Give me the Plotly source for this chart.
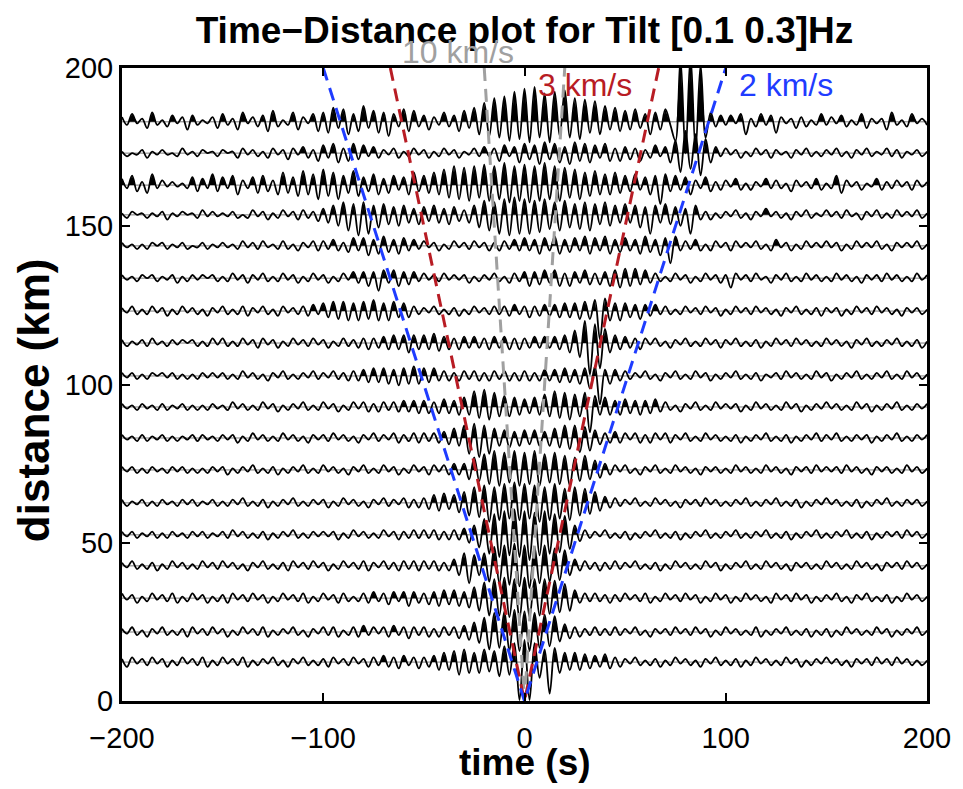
import numpy as np
import plotly.graph_objects as go

# ---------------- data ----------------
T_START = -200.0          # s, first sample time
T_STEP = 2.5              # s, spacing of the read-off peaks/troughs
GAIN = 0.5                # km of offset per amplitude unit
FILL_MIN = 2.0            # km, positive lobes at least this tall are filled

DISTANCES = [183.0, 173.1, 163.0, 153.6, 143.8, 133.6, 123.2, 113.1, 102.7,
             92.9, 83.1, 73.0, 62.6, 52.5, 42.7, 32.5, 21.8, 12.3]

TRACE_183 = [3,-2,5,-1,2,-4,6,-2,1,-3,4,-1,3,-5,4,-2,1,-1,3,-4,
             5,-2,2,-5,6,-1,3,-3,4,-6,7,-3,1,-2,6,-5,3,-1,5,-6,
             6,-7,9,-4,8,-8,5,-6,10,-4,7,-7,6,-9,5,-3,8,-6,7,-3,
             4,-5,3,-2,6,-3,4,-6,7,-4,9,-8,12,-9,15,-10,16,-12,19,-11,
             21,-13,22,-10,18,-13,19,-9,20,-10,15,-11,14,-7,13,-8,10,-5,9,-6,
             7,-5,8,-4,5,-8,6,-5,8,-2,-12,40,-20,42,-18,36,-10,6,-3,4,
             -2,4,-1,5,-8,2,-3,5,-2,4,-7,3,-1,2,-4,3,-3,1,-2,5,
             -2,3,-1,4,-3,1,-2,5,-4,2,-1,2,-5,6,-2,1,-3,5,-1,2,
             -2]
TRACE_173 = [1,-2,0,-1,2,-3,1,-1,2,-1,0,-2,3,-1,1,-2,2,0,1,-2,
             2,0,1,-3,3,-1,2,-2,1,-3,3,-1,2,-4,3,-1,4,-3,2,-5,
             5,-3,6,-6,3,-5,6,-4,5,-2,4,-3,2,-1,3,-3,1,-2,3,-1,
             2,-3,1,-2,3,-1,2,-3,1,-1,3,-2,4,-2,3,-5,5,-2,4,-6,
             6,-4,5,-7,7,-4,6,-6,4,-7,7,-5,6,-6,5,-3,6,-5,3,-5,
             4,-4,3,-5,2,-3,5,-2,4,-6,8,-12,14,-10,12,-14,9,-6,4,-2,
             3,-1,2,-3,1,-2,3,-1,2,-3,2,-1,1,-3,2,-1,3,-2,1,-2,
             2,-1,3,-2,1,-3,2,-1,3,-2,1,-1,3,-2,2,-3,1,-1,2,-2,
             1]
TRACE_163 = [4,-2,6,-4,2,-5,7,-2,3,-1,2,-1,1,-2,5,-4,4,-2,7,-4,
             5,-2,6,-6,3,-2,5,-5,6,-4,3,-6,8,-5,5,-7,9,-6,7,-9,
             10,-7,8,-9,6,-5,9,-7,5,-4,7,-6,4,-5,6,-3,5,-6,8,-4,
             6,-5,8,-6,10,-8,12,-9,11,-10,12,-8,13,-10,12,-9,14,-11,12,-10,
             13,-11,12,-10,14,-9,12,-10,11,-8,10,-9,8,-7,9,-6,7,-6,8,-5,
             6,-4,7,-3,5,-6,6,-12,7,-4,6,-3,5,-6,3,-2,5,-4,2,-3,
             3,-1,4,-3,1,-3,2,-1,4,-2,3,-2,1,-4,3,-1,2,-2,4,-3,
             1,-2,6,-5,3,-1,2,-3,1,-1,4,-3,2,-2,3,-1,2,-3,3,-1,
             2]
TRACE_154 = [1,-2,2,0,1,-2,1,-1,2,-3,1,-1,2,0,1,-2,3,-1,2,-1,
             1,-1,2,-2,0,-2,3,-1,2,-3,1,-2,3,-1,2,-3,3,-2,2,-4,
             4,-5,6,-7,8,-10,7,-13,8,-12,6,-8,7,-6,5,-7,6,-5,4,-6,
             5,-4,6,-5,4,-6,5,-4,3,-5,6,-8,9,-10,8,-12,10,-13,11,-12,
             10,-12,9,-11,10,-9,8,-10,9,-8,7,-9,8,-10,7,-6,8,-7,6,-5,
             7,-5,6,-8,5,-12,6,-5,7,-6,5,-7,4,-12,6,-3,2,-3,1,-2,
             2,-1,3,-2,1,-3,2,-1,4,-1,2,-2,1,-3,2,-1,3,-2,1,-1,
             3,-1,2,-2,3,-1,1,-3,2,-1,3,-2,1,-2,3,-1,2,-1,3,-2,
             1]
TRACE_144 = [2,-1,1,-2,1,-2,2,0,2,-2,1,-1,2,-2,0,-1,2,-2,1,-1,
             2,-1,1,-2,3,-1,2,-2,3,-1,1,-2,3,-2,1,-3,2,-1,3,-3,
             3,-2,4,-3,2,-4,5,-3,5,-6,4,-5,6,-4,4,-5,5,-3,4,-2,
             3,-1,2,-3,1,-2,3,-1,2,-2,3,-1,2,-3,2,-3,3,-2,4,-3,
             5,-3,4,-5,5,-3,6,-5,4,-4,5,-3,6,-5,5,-3,6,-5,4,-4,
             5,-3,4,-5,6,-4,4,-6,5,-11,6,-3,3,-2,4,-3,1,-3,3,-1,
             2,-3,3,-1,2,-1,3,-2,1,-3,4,-1,2,-3,1,-2,3,-1,2,-1,
             3,-1,2,-3,1,-2,3,-1,2,-1,3,-2,1,-3,2,-1,2,-1,3,-2,
             1]
TRACE_134 = [2,-1,1,-2,2,0,2,-2,1,-1,2,-3,1,-2,2,-1,2,0,2,-2,
             1,-2,3,-1,2,-3,2,-1,3,-2,1,-2,3,-1,2,-3,1,-2,3,-1,
             2,-3,1,-2,3,-1,4,-3,4,-5,4,-8,5,-3,5,-5,4,-4,4,-2,
             3,-1,2,-2,3,-1,2,-1,2,-3,1,-2,2,-1,3,-2,1,-3,3,-2,
             4,-5,4,-4,5,-3,5,-5,3,-5,4,-3,5,-4,3,-4,4,-5,5,-6,
             6,-5,6,-4,5,-3,3,-2,1,-2,3,-1,2,-3,1,-2,3,-1,2,-3,
             2,-6,3,-1,2,-2,3,-1,1,-3,2,-1,3,-2,1,-2,3,-1,2,-2,
             1,-2,3,-1,2,-2,1,-3,2,-1,2,-2,3,-1,2,-2,1,-2,3,-1,
             2]
TRACE_123 = [2,-1,3,-2,1,-2,3,-1,2,-3,1,-2,3,-1,2,-2,1,-3,2,-1,
             3,-2,1,-2,3,-3,2,-1,3,-2,1,-3,3,-1,2,-2,3,-3,4,-2,
             5,-4,6,-5,6,-6,5,-6,6,-5,7,-6,5,-6,6,-4,5,-4,3,-2,
             2,-1,3,-2,1,-2,2,-3,1,-2,3,-1,2,-2,3,-2,3,-3,4,-2,
             3,-4,3,-3,4,-3,4,-4,5,-4,5,-5,6,-5,7,-18,8,-6,5,-6,
             5,-4,4,-5,4,-3,4,-2,3,-2,1,-2,3,-1,2,-2,3,-1,2,-3,
             1,-2,3,-1,2,-2,3,-1,2,-2,1,-3,2,-1,3,-2,1,-2,2,-3,
             2,-1,2,-3,1,-2,3,-1,2,-2,3,-1,2,-2,1,-3,2,-1,2,-2,
             1]
TRACE_113 = [2,-2,1,-1,2,-2,3,-1,1,-2,2,-1,2,0,2,-2,1,-2,3,-1,
             3,-2,1,-2,3,-1,2,-3,3,-1,2,-3,1,-2,3,-1,2,-2,3,-1,
             2,-3,1,-2,3,-2,2,-3,3,-4,3,-3,4,-4,5,-4,5,-6,5,-4,
             5,-4,6,-5,4,-4,3,-4,4,-3,4,-3,3,-4,4,-3,4,-4,3,-4,
             3,-3,4,-3,4,-3,4,-4,5,-6,8,-9,14,-20,12,-16,9,-6,5,-4,
             4,-3,3,-4,3,-1,3,-2,1,-3,2,-1,3,-2,1,-2,3,-1,2,-3,
             2,-1,3,-2,1,-2,2,-3,1,-2,3,-1,2,-2,3,-1,2,-2,1,-2,
             3,-1,2,-2,1,-3,2,-1,3,-2,1,-2,2,-1,3,-2,1,-2,2,-3,
             1]
TRACE_103 = [2,-1,2,-2,1,-2,2,0,2,-1,2,-2,1,-2,1,-2,2,-1,2,-1,
             2,-2,1,-2,3,-1,2,-2,1,-3,2,-1,3,-2,1,-2,2,-1,3,-2,
             2,-1,3,-2,2,-3,3,-3,4,-4,5,-4,5,-5,4,-6,5,-5,6,-5,
             5,-4,5,-3,3,-3,2,-3,3,-2,3,-3,2,-3,3,-2,3,-3,2,-3,
             3,-3,2,-3,4,-3,4,-4,5,-4,4,-5,5,-8,6,-18,4,-5,4,-3,
             3,-2,2,-1,3,-2,1,-3,2,-1,3,-2,1,-2,3,-1,2,-3,1,-2,
             2,-1,3,-2,1,-2,2,-3,1,-1,2,-2,3,-1,2,-2,1,-2,3,-1,
             2,-3,1,-2,2,-1,3,-2,1,-2,2,-1,3,-2,1,-2,3,-1,2,-2,
             1]
TRACE_093 = [2,-1,1,-2,2,-1,1,-2,2,-2,1,-1,2,-2,1,-2,1,-2,2,-1,
             1,-2,3,-1,2,-2,1,-2,3,-1,2,-3,1,-2,2,-1,3,-2,1,-2,
             3,-1,2,-3,1,-2,3,-1,3,-3,2,-3,3,-2,3,-3,4,-3,4,-4,
             4,-4,3,-4,5,-4,4,-5,6,-5,10,-7,11,-8,9,-6,7,-6,6,-5,
             5,-4,6,-5,8,-6,10,-7,9,-8,8,-6,9,-16,7,-5,6,-5,4,-5,
             5,-4,4,-5,4,-4,5,-3,3,-2,1,-3,2,-1,3,-2,1,-2,3,-1,
             2,-1,2,-3,1,-2,3,-1,2,-2,1,-2,3,-1,2,-3,1,-2,2,-1,
             3,-1,2,-2,1,-2,3,-1,2,-3,1,-2,2,-1,3,-2,1,-2,2,-1,
             2]
TRACE_083 = [2,-1,1,-2,2,-2,1,-1,2,-2,1,-2,1,-1,2,-2,2,-1,1,-2,
             2,-1,2,-3,1,-2,3,-1,2,-2,1,-2,3,-1,2,-2,1,-3,2,-1,
             2,-2,3,-1,2,-2,1,-3,2,-1,3,-2,2,-1,3,-3,2,-2,3,-3,
             3,-2,3,-3,4,-4,6,-5,8,-10,9,-12,8,-10,6,-5,5,-6,4,-5,
             5,-4,5,-5,4,-5,6,-6,8,-7,8,-9,7,-8,5,-4,3,-3,4,-3,
             3,-1,3,-3,2,-3,3,-1,3,-3,2,-1,3,-2,1,-2,3,-1,2,-2,
             1,-2,2,-3,1,-2,2,-1,3,-2,1,-2,2,-3,1,-2,2,-1,3,-2,
             2,-1,3,-2,1,-2,2,-1,2,-3,1,-2,2,-1,3,-2,1,-2,2,-1,
             2]
TRACE_073 = [2,-1,2,-2,1,-2,2,-1,1,-2,2,-1,2,-2,1,-2,1,-2,2,-1,
             2,-3,1,-2,2,-1,3,-2,1,-2,2,-3,1,-2,2,-1,3,-2,1,-2,
             3,-1,2,-2,1,-3,2,-1,3,-2,1,-2,3,-1,2,-3,1,-2,3,-1,
             2,-3,3,-1,3,-3,4,-3,4,-6,8,-7,10,-9,12,-10,11,-8,12,-10,
             11,-9,12,-10,10,-8,11,-9,9,-10,8,-7,9,-6,6,-5,4,-3,3,-1,
             3,-2,1,-3,2,-1,3,-2,1,-2,3,-1,2,-2,1,-3,2,-1,2,-2,
             1,-2,3,-1,2,-2,1,-2,3,-1,2,-2,1,-3,2,-1,2,-2,3,-1,
             2,-1,2,-2,3,-1,2,-2,1,-3,2,-1,2,-2,1,-2,3,-1,2,-2,
             1]
TRACE_063 = [2,-2,1,-1,2,-2,1,-2,2,-1,1,-2,2,-1,2,-2,1,-1,2,-2,
             1,-2,2,-1,3,-2,1,-2,2,-3,1,-2,2,-1,3,-2,1,-2,2,-1,
             2,-3,1,-2,3,-1,2,-2,1,-3,2,-1,3,-2,2,-1,3,-3,2,-3,
             3,-4,5,-5,6,-4,5,-6,7,-8,10,-9,11,-12,10,-11,12,-10,13,-11,
             12,-10,11,-12,10,-11,12,-10,9,-11,10,-8,9,-7,7,-5,4,-3,3,-2,
             2,-1,3,-2,1,-2,3,-1,2,-2,1,-3,2,-1,2,-2,3,-1,2,-2,
             1,-2,2,-1,3,-2,1,-2,2,-1,3,-2,1,-2,2,-3,1,-2,2,-1,
             3,-1,2,-2,1,-2,2,-3,1,-2,2,-1,3,-2,1,-2,2,-1,2,-2,
             1]
TRACE_053 = [2,-1,2,-2,1,-1,2,-2,1,-2,2,-1,1,-2,2,-1,2,-2,1,-1,
             2,-2,3,-1,2,-2,1,-2,2,-3,1,-2,2,-1,3,-2,1,-2,2,-1,
             2,-1,2,-3,1,-2,3,-1,2,-2,1,-2,3,-1,2,-3,2,-2,3,-2,
             3,-2,3,-3,2,-3,3,-3,4,-5,6,-8,10,-12,13,-14,15,-13,16,-14,
             15,-16,14,-13,15,-12,13,-11,12,-9,6,-4,3,-2,2,-1,3,-2,1,-2,
             2,-3,1,-2,2,-1,3,-2,1,-2,2,-3,1,-2,2,-1,3,-2,1,-2,
             2,-1,3,-2,1,-2,2,-1,3,-2,1,-2,2,-3,1,-2,2,-1,3,-2,
             1,-2,2,-1,3,-2,1,-2,2,-3,1,-2,2,-1,2,-2,3,-1,2,-2,
             1]
TRACE_043 = [2,-1,3,-2,1,-2,2,-3,1,-2,3,-1,2,-2,1,-2,3,-1,2,-2,
             3,-1,2,-2,1,-3,2,-1,3,-2,1,-2,2,-3,3,-1,2,-2,3,-1,
             2,-3,1,-2,3,-1,2,-2,3,-3,2,-1,3,-2,2,-3,3,-2,3,-3,
             3,-2,3,-3,2,-3,4,-6,8,-11,7,-6,8,-10,12,-11,13,-12,14,-13,
             13,-14,12,-11,13,-10,11,-9,10,-6,4,-3,3,-2,2,-3,2,-2,3,-2,
             2,-1,3,-2,1,-2,2,-3,1,-2,3,-1,2,-2,1,-2,3,-1,2,-3,
             1,-2,2,-1,3,-2,1,-2,3,-1,2,-2,1,-3,2,-1,2,-2,1,-2,
             3,-1,2,-2,1,-2,3,-1,2,-2,1,-3,2,-1,2,-2,3,-1,2,-2,
             1]
TRACE_033 = [3,-1,2,-3,1,-2,3,-1,2,-2,3,-3,1,-2,3,-1,2,-3,1,-2,
             2,-3,3,-1,2,-2,3,-1,2,-3,1,-2,3,-1,2,-2,3,-3,1,-2,
             3,-1,2,-3,3,-2,1,-2,3,-3,4,-2,3,-4,4,-2,4,-5,4,-3,
             3,-4,4,-5,5,-4,5,-5,4,-6,7,-8,10,-11,12,-11,13,-12,12,-13,
             13,-12,12,-11,12,-10,11,-9,9,-8,5,-3,3,-2,3,-2,2,-3,2,-2,
             3,-1,2,-2,3,-3,1,-2,3,-1,2,-2,3,-1,2,-3,1,-2,3,-1,
             2,-3,1,-2,3,-1,2,-2,1,-3,3,-1,2,-2,3,-1,2,-3,1,-2,
             2,-1,3,-2,1,-3,2,-1,3,-2,1,-2,2,-3,1,-2,3,-1,2,-2,
             1]
TRACE_022 = [2,-1,3,-2,1,-3,2,-1,3,-2,1,-2,2,-3,3,-1,2,-2,3,-1,
             2,-3,1,-2,3,-1,2,-2,3,-3,1,-2,2,-1,3,-2,1,-3,2,-1,
             3,-2,3,-3,1,-2,3,-3,4,-2,3,-1,3,-3,4,-2,3,-4,3,-2,
             3,-3,2,-3,3,-2,3,-4,4,-5,6,-7,9,-11,12,-10,13,-12,14,-12,
             13,-12,12,-10,11,-9,10,-6,5,-4,3,-3,2,-2,3,-2,2,-2,3,-2,
             2,-1,3,-2,1,-3,2,-1,2,-2,3,-1,2,-2,3,-1,2,-3,1,-2,
             3,-1,2,-2,1,-2,3,-3,1,-2,2,-1,3,-2,1,-2,2,-3,1,-2,
             2,-3,1,-2,3,-1,2,-2,1,-2,3,-1,2,-3,1,-2,2,-1,3,-2,
             1]
TRACE_012 = [2,-3,3,-1,2,-2,3,-1,2,-3,1,-2,3,-1,2,-2,3,-3,1,-2,
             3,-1,2,-2,3,-3,1,-2,2,-1,3,-2,1,-3,2,-1,3,-2,1,-2,
             2,-3,3,-1,2,-2,3,-1,2,-3,3,-2,4,-3,3,-4,4,-2,3,-4,
             3,-3,4,-5,6,-5,7,-8,8,-7,6,-7,8,-6,7,-9,10,-8,12,-24,
             14,-24,12,-10,8,-20,9,-7,6,-5,6,-5,5,-4,4,-3,5,-4,3,-3,
             2,-1,3,-2,1,-2,2,-3,1,-2,3,-1,2,-2,1,-3,2,-1,3,-2,
             1,-2,2,-3,1,-2,3,-1,2,-2,1,-2,3,-1,2,-3,1,-2,2,-1,
             3,-1,2,-2,1,-3,2,-1,2,-2,3,-1,2,-2,3,-1,2,-2,1,-2,
             1]

TRACES = [TRACE_183, TRACE_173, TRACE_163, TRACE_154, TRACE_144, TRACE_134,
          TRACE_123, TRACE_113, TRACE_103, TRACE_093, TRACE_083, TRACE_073,
          TRACE_063, TRACE_053, TRACE_043, TRACE_033, TRACE_022, TRACE_012]

VELOCITIES = [10, 3, 2]                 # km/s
VEL_LABELS = ["10 km/s", "3 km/s", "2 km/s"]
VEL_COLORS = ["#a0a0a0", "#b81c24", "#1f3cff"]
VEL_LABEL_POS = [(-33, 1.025), (30, 0.973), (130, 0.973)]   # (time, paper-y)

X_TICKS = [-200, -100, 0, 100, 200]
Y_TICKS = [0, 50, 100, 150, 200]
D_MAX = 200

FONT = "Liberation Sans, Arial, Helvetica, sans-serif"

# ---------------- figure ----------------
fig = go.Figure()

for d, vals in zip(DISTANCES, TRACES):
    assert len(vals) == 161, (d, len(vals))
    v = np.asarray(vals, dtype=float) * GAIN
    t = T_START + T_STEP * np.arange(len(v))
    fig.add_trace(go.Scatter(x=[t[0], t[-1]], y=[d, d], mode="lines",
                             line=dict(color="#555555", width=0.8),
                             hoverinfo="skip", showlegend=False))
    fx, fy = [t[0]], [0.0]
    for i in range(len(v)):
        fx.append(t[i]); fy.append(v[i] if v[i] >= FILL_MIN else 0.0)
        if i < len(v) - 1:
            a, b = v[i], v[i + 1]
            if (a > 0) != (b > 0) and a != b:
                fx.append(t[i] + (t[i + 1] - t[i]) * a / (a - b)); fy.append(0.0)
    fx.append(t[-1]); fy.append(0.0)
    fig.add_trace(go.Scatter(x=fx, y=np.asarray(fy) + d, mode="lines",
                             fill="toself", fillcolor="black",
                             line=dict(width=0, color="black"),
                             hoverinfo="skip", showlegend=False))
    fig.add_trace(go.Scatter(x=t, y=v + d, mode="lines",
                             line=dict(color="black", width=1.8,
                                       shape="spline", smoothing=1),
                             hoverinfo="skip", showlegend=False))

for vel, col in zip(VELOCITIES, VEL_COLORS):
    tmax = D_MAX / vel
    fig.add_trace(go.Scatter(x=[-tmax, 0, tmax], y=[D_MAX, 0, D_MAX], mode="lines",
                             line=dict(color=col, width=3, dash="13px,8px"),
                             hoverinfo="skip", showlegend=False))

for lab, col, (tx, ty) in zip(VEL_LABELS, VEL_COLORS, VEL_LABEL_POS):
    fig.add_annotation(x=tx, y=ty, xref="x", yref="paper", text=lab, showarrow=False,
                       font=dict(family=FONT, size=32, color=col),
                       xanchor="center", yanchor="middle")

fig.add_annotation(x=0.5, y=-0.097, xref="paper", yref="paper", text="time (s)",
                   showarrow=False, font=dict(family=FONT, size=37, color="black",
                                              weight="bold"),
                   xanchor="center", yanchor="middle")
fig.add_annotation(x=-0.11, y=0.476, xref="paper", yref="paper", text="distance (km)",
                   showarrow=False, textangle=-90,
                   font=dict(family=FONT, size=44, color="black", weight="bold"),
                   xanchor="center", yanchor="middle")

axis_common = dict(showline=True, linewidth=3, linecolor="black", mirror="allticks",
                   ticks="inside", ticklen=8, tickwidth=2, tickcolor="black",
                   showgrid=False, zeroline=False,
                   tickfont=dict(family=FONT, size=29, color="black"))

# the page body adds an 8 px offset, so the figure is 8 px smaller and margins shifted
fig.update_layout(
    width=955, height=781,
    paper_bgcolor="white", plot_bgcolor="white",
    margin=dict(l=114, r=28, t=60, b=88),
    title=dict(text="Time\u2212Distance plot for Tilt [0.1 0.3]Hz",
               x=0.5, xref="paper", y=1 - 22 / 781, yref="container",
               xanchor="center", yanchor="middle",
               font=dict(family=FONT, size=37, color="black", weight="bold")),
    xaxis=dict(range=[-200, 200], tickvals=X_TICKS, ticklabelstandoff=9,
               **axis_common),
    yaxis=dict(range=[0, 200], tickvals=Y_TICKS, ticklabelstandoff=0,
               **axis_common),
    showlegend=False,
)

fig.write_html("out.html")
